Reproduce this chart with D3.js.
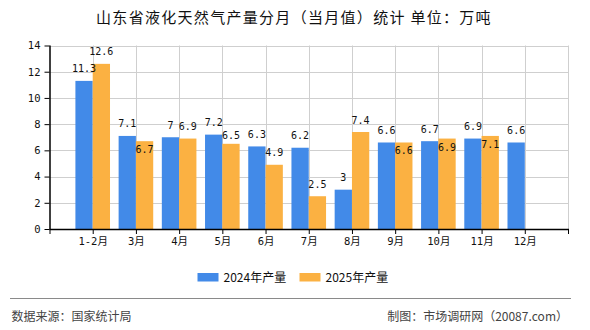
<!DOCTYPE html>
<html>
  <head>
    <meta charset="utf-8">
    <script src="https://d3js.org/d3.v7.min.js"></script>
    <style>
      body { margin: 0; background: #fff; }
      svg { display: block; }
    </style>
  </head>
  <body>
    <svg id="chart" width="590" height="330"></svg>
  <script>
  // chart data
  var months = ["1-2月", "3月", "4月", "5月", "6月", "7月", "8月", "9月", "10月", "11月", "12月"];
  var values2024 = [11.3, 7.1, 7, 7.2, 6.3, 6.2, 3, 6.6, 6.7, 6.9, 6.6];
  var values2025 = [12.6, 6.7, 6.9, 6.5, 4.9, 2.5, 7.4, 6.6, 6.9, 7.1, null];
  var seriesNames = ["2024年产量", "2025年产量"];
  var yTicks = [0, 2, 4, 6, 8, 10, 12, 14];

  var colors = ["#428ae8", "#fbb142"];
  var monoFont = "'DejaVu Sans Mono', 'Noto Sans CJK SC', monospace";
  var cjkFont = "'Noto Sans CJK SC', sans-serif";

  var svg = d3.select("#chart");
  var plot = {left: 49.5, right: 568, top: 45.5, bottom: 229};

  // title
  svg.append("text")
    .attr("x", 294).attr("y", 18)
    .attr("dy", "0.35em")
    .attr("text-anchor", "middle")
    .attr("xml:space", "preserve")
    .style("font-family", cjkFont)
    .style("font-size", "15px")
    .style("letter-spacing", "1.3px")
    .style("fill", "#111")
    .text("山东省液化天然气产量分月（当月值）统计 单位：万吨");

  // scales
  var x = d3.scalePoint()
    .domain(months)
    .range([plot.left, plot.right])
    .padding(1);
  var y = d3.scaleLinear()
    .domain([0, 14])
    .range([plot.bottom, plot.top]);

  var barW = 17.3;

  // grid lines
  var grid = svg.append("g").attr("stroke", "#cfcfcf").attr("stroke-width", 1);
  grid.selectAll(".hgrid")
    .data(yTicks.filter(function(d) { return d > 0; }))
    .enter().append("line")
      .attr("x1", plot.left).attr("x2", plot.right)
      .attr("y1", function(d) { return Math.round(y(d)) + 0.5; })
      .attr("y2", function(d) { return Math.round(y(d)) + 0.5; });
  grid.selectAll(".vgrid")
    .data(months)
    .enter().append("line")
      .attr("x1", function(d) { return Math.round(x(d)) + 0.5; })
      .attr("x2", function(d) { return Math.round(x(d)) + 0.5; })
      .attr("y1", plot.top).attr("y2", plot.bottom);
  grid.append("line")
    .attr("x1", plot.right + 0.5).attr("x2", plot.right + 0.5)
    .attr("y1", plot.top).attr("y2", plot.bottom);

  // bars
  var barData = [];
  months.forEach(function(m, i) {
    [values2024[i], values2025[i]].forEach(function(v, s) {
      if (v == null) return;
      barData.push({month: m, value: v, s: s});
    });
  });

  svg.append("g").selectAll("rect")
    .data(barData)
    .enter().append("rect")
      .attr("x", function(d) { return d.s === 0 ? x(d.month) - barW : x(d.month); })
      .attr("width", barW)
      .attr("y", function(d) { return y(d.value); })
      .attr("height", function(d) { return plot.bottom - y(d.value); })
      .attr("fill", function(d) { return colors[d.s]; });

  // value labels with simple overlap handling
  var charW = 6;
  var labels = [];
  months.forEach(function(m, i) {
    var a = values2024[i], b = values2025[i];
    var la = {text: String(a), cx: x(m) - barW / 2, cy: y(a) - 12};
    labels.push(la);
    if (b == null) return;
    var lb = {text: String(b), cx: x(m) + barW / 2, cy: y(b) - 12};
    var wOverlap = (la.text.length + lb.text.length) * charW / 2 > (lb.cx - la.cx);
    var dy = Math.abs(la.cy - lb.cy);
    if (wOverlap && dy < 13) {
      if (dy >= 8 && lb.cy > la.cy) {
        lb.cy = la.cy + 13;
      } else {
        lb.cy = y(b) + 8.5;
      }
    }
    labels.push(lb);
  });

  svg.append("g").selectAll("text")
    .data(labels)
    .enter().append("text")
      .attr("x", function(d) { return d.cx; })
      .attr("y", function(d) { return d.cy; })
      .attr("dy", "0.35em")
      .attr("text-anchor", "middle")
      .style("font-family", monoFont)
      .style("font-size", "10px")
      .style("fill", "#111")
      .text(function(d) { return d.text; });

  // axes
  var yAxis = svg.append("g")
    .attr("transform", "translate(" + plot.left + ",0)")
    .call(d3.axisLeft(y).tickValues(yTicks).tickSize(5).tickPadding(4));
  var xAxis = svg.append("g")
    .attr("transform", "translate(0," + plot.bottom + ")")
    .call(d3.axisBottom(x).tickSize(5).tickPadding(4));
  // extra ticks at both ends of the x axis
  [plot.left, plot.right].forEach(function(px) {
    xAxis.append("line")
      .attr("x1", px + 0.5).attr("x2", px + 0.5)
      .attr("y1", 0).attr("y2", 5)
      .attr("stroke", "#000");
  });
  [yAxis, xAxis].forEach(function(ax) {
    ax.select(".domain").attr("stroke", "#000").attr("stroke-width", 1.5);
    ax.selectAll(".tick line").attr("stroke", "#000");
    ax.selectAll("text")
      .style("font-family", monoFont)
      .style("font-size", "10.5px")
      .style("fill", "#111");
  });
  xAxis.select(".domain").attr("d", "M" + plot.left + ",0.5H" + (plot.right + 1));
  yAxis.select(".domain").attr("d", "M0.5," + plot.bottom + "V" + plot.top);

  // legend
  var legend = svg.append("g");
  var legendX = [197.5, 299.5];
  seriesNames.forEach(function(name, i) {
    legend.append("rect")
      .attr("x", legendX[i]).attr("y", 273)
      .attr("width", 21).attr("height", 8.5)
      .attr("fill", colors[i]);
    legend.append("text")
      .attr("x", legendX[i] + 26).attr("y", 277.5)
      .attr("dy", "0.35em")
      .style("font-family", cjkFont)
      .style("font-size", "12px")
      .style("fill", "#111")
      .text(name);
  });

  // footer
  svg.append("line")
    .attr("x1", 10).attr("x2", 571)
    .attr("y1", 298.5).attr("y2", 298.5)
    .attr("stroke", "#8a8a8a").attr("stroke-width", 1.2);
  svg.append("text")
    .attr("x", 11.5).attr("y", 317)
    .attr("dy", "0.35em")
    .style("font-family", cjkFont)
    .style("font-size", "12px")
    .style("fill", "#444")
    .text("数据来源：国家统计局");
  svg.append("text")
    .attr("x", 568).attr("y", 317)
    .attr("dy", "0.35em")
    .attr("text-anchor", "end")
    .style("font-family", cjkFont)
    .style("font-size", "12px")
    .style("fill", "#444")
    .text("制图：市场调研网（20087.com）");
  </script>
  </body>
</html>
